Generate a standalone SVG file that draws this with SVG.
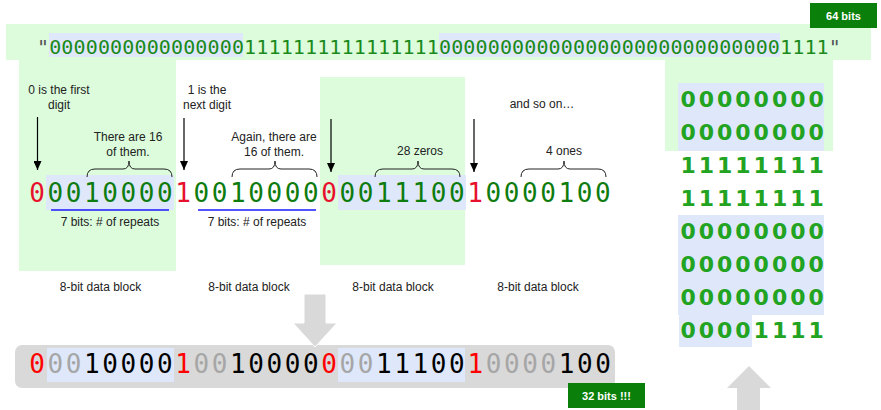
<svg xmlns="http://www.w3.org/2000/svg" width="881" height="410" viewBox="0 0 881 410">
<defs>
<style>
.panel{fill:#dcfcdc}
.hl{fill:#dfe8fb}
.lbl{font-family:"Liberation Sans",Arial,sans-serif;font-size:12px;fill:#222;text-anchor:middle}
.mono{font-family:"DejaVu Sans Mono","Liberation Mono",monospace}
.big{font-size:26px;letter-spacing:2.6px}
.g{fill:#0e7c0e}
.r{fill:#e8112d}
.rb{fill:#ff0000}
.gr{fill:#a6a6a6}
.k{fill:#000}
.brace{fill:none;stroke:#222;stroke-width:1}
.arr{stroke:#000;stroke-width:1.2;fill:none;marker-end:url(#ah)}
.ul{stroke:#1a1aff;stroke-width:1.3}
.badge{fill:#0a7f0a}
.badgetxt{font-family:"Liberation Sans",Arial,sans-serif;font-size:11px;font-weight:bold;fill:#fff;text-anchor:middle}
.garrow{fill:#d9d9d9}
.col{font-family:"DejaVu Sans",Verdana,sans-serif;font-size:22px;font-weight:bold;letter-spacing:3px;fill:#22a322}
</style>
<marker id="ah" markerUnits="userSpaceOnUse" markerWidth="9" markerHeight="8" refX="9" refY="4" orient="auto">
<path d="M0,0 L9,4 L0,8 z" fill="#000"/>
</marker>
</defs>

<g id="backgrounds">
<rect class="panel" x="6" y="24" width="865" height="36"/>
<rect class="panel" x="19" y="59" width="157" height="212"/>
<rect class="panel" x="320" y="77" width="145" height="188"/>
<rect class="panel" x="665" y="59" width="168" height="92"/>
</g>

<g id="badge-64">
<rect class="badge" x="810" y="3" width="67" height="25"/>
<text class="badgetxt" x="843.5" y="20">64 bits</text>
</g>

<g id="original-string">
<rect class="hl" x="49" y="33" width="194" height="24"/>
<rect class="hl" x="439" y="33" width="341" height="24"/>
<text class="mono" x="37" y="54" font-size="20" letter-spacing="0.14" fill="#1a8a1a"><tspan fill="#555">"</tspan>0000000000000000111111111111111100000000000000000000000000001111<tspan fill="#555">"</tspan></text>
</g>

<g id="encoded-row">
<rect class="hl" x="46" y="175" width="128" height="35"/>
<rect class="hl" x="338" y="175" width="128" height="35"/>
<text class="mono big" x="29.2" y="202"><tspan class="r">0</tspan><tspan class="g">0010000</tspan><tspan class="r">1</tspan><tspan class="g">0010000</tspan><tspan class="r">0</tspan><tspan class="g">0011100</tspan><tspan class="r">1</tspan><tspan class="g">0000100</tspan></text>
</g>

<g id="annotations">
<text class="lbl" x="59" y="94">0 is the first</text>
<text class="lbl" x="59" y="109">digit</text>
<text class="lbl" x="207" y="94">1 is the</text>
<text class="lbl" x="207" y="109">next digit</text>
<text class="lbl" x="542" y="108">and so on…</text>
<text class="lbl" x="128" y="141">There are 16</text>
<text class="lbl" x="128" y="156">of them.</text>
<text class="lbl" x="274" y="141">Again, there are</text>
<text class="lbl" x="274" y="156">16 of them.</text>
<text class="lbl" x="420" y="155">28 zeros</text>
<text class="lbl" x="564" y="155">4 ones</text>
<text class="lbl" x="110" y="226">7 bits: # of repeats</text>
<text class="lbl" x="257" y="226">7 bits: # of repeats</text>
<text class="lbl" x="100.5" y="291">8-bit data block</text>
<text class="lbl" x="249" y="291">8-bit data block</text>
<text class="lbl" x="393" y="291">8-bit data block</text>
<text class="lbl" x="538" y="291">8-bit data block</text>
</g>

<g id="connectors">
<line class="arr" x1="37.5" y1="117" x2="37.5" y2="170"/>
<line class="arr" x1="184" y1="118" x2="184" y2="170"/>
<line class="arr" x1="331" y1="119" x2="331" y2="172"/>
<line class="arr" x1="474" y1="119" x2="474" y2="172"/>
<path class="brace" d="M87,177 Q87,169 95,169 L123,169 Q129,169 129,161 Q129,169 135,169 L164,169 Q172,169 172,177"/>
<path class="brace" d="M232,177 Q232,169 240,169 L269,169 Q275,169 275,161 Q275,169 281,169 L309,169 Q317,169 317,177"/>
<path class="brace" d="M375,177 Q375,169 383,169 L412,169 Q418,169 418,161 Q418,169 424,169 L452,169 Q460,169 460,177"/>
<path class="brace" d="M521,177 Q521,169 529,169 L558,169 Q564,169 564,161 Q564,169 570,169 L598,169 Q606,169 606,177"/>
<line class="ul" x1="51" y1="210" x2="169" y2="210"/>
<line class="ul" x1="198" y1="210" x2="316" y2="210"/>
</g>

<g id="compressed-row">
<rect fill="#d9d9d9" x="15" y="345" width="600" height="43" rx="7"/>
<rect class="hl" x="47" y="348" width="127" height="34"/>
<rect class="hl" x="338" y="348" width="127" height="34"/>
<text class="mono big" x="29.2" y="373"><tspan class="rb">0</tspan><tspan class="gr">00</tspan><tspan class="k">10000</tspan><tspan class="rb">1</tspan><tspan class="gr">00</tspan><tspan class="k">10000</tspan><tspan class="rb">0</tspan><tspan class="gr">00</tspan><tspan class="k">11100</tspan><tspan class="rb">1</tspan><tspan class="gr">0000</tspan><tspan class="k">100</tspan></text>
</g>

<g id="down-arrow">
<polygon class="garrow" stroke="#fff" stroke-width="1" points="304,294 326,294 326,323 337,323 315,347 293,323 304,323"/>
</g>

<g id="badge-32">
<rect class="badge" x="568" y="383" width="77" height="25"/>
<text class="badgetxt" x="606.5" y="400">32 bits !!!</text>
</g>

<g id="column">
<rect class="hl" x="678" y="83" width="146" height="68"/>
<rect class="hl" x="678" y="215" width="146" height="100"/>
<rect class="hl" x="679" y="315" width="73" height="32"/>
<g class="col">
<text x="680.4" y="107">00000000</text>
<text x="680.4" y="140">00000000</text>
<text x="680.4" y="173">11111111</text>
<text x="680.4" y="206">11111111</text>
<text x="680.4" y="239">00000000</text>
<text x="680.4" y="272">00000000</text>
<text x="680.4" y="305">00000000</text>
<text x="680.4" y="338">00001111</text>
</g>
</g>

<g id="up-arrow">
<polygon class="garrow" points="749,366 771,388 760,388 760,410 737,410 737,388 727,388"/>
</g>
</svg>
